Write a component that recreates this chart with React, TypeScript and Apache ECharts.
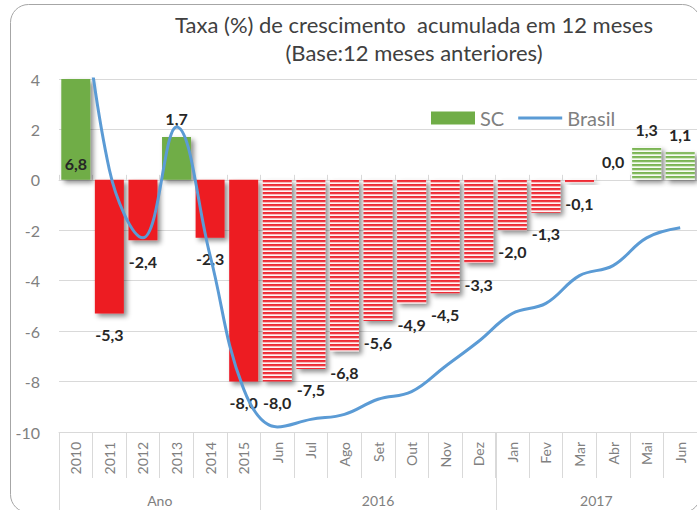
import React, { useEffect, useRef } from 'react';
import * as echarts from 'echarts';

// ---- data ----
const categories = ['2010', '2011', '2012', '2013', '2014', '2015', 'Jun', 'Jul', 'Ago', 'Set', 'Out', 'Nov', 'Dez', 'Jan', 'Fev', 'Mar', 'Abr', 'Mai', 'Jun'];
const groupNames = ['Ano', '2016', '2017'];
const groupSizes = [6, 7, 6];
const scValues = [6.8, -5.3, -2.4, 1.7, -2.3, -8.0, -8.0, -7.5, -6.8, -5.6, -4.9, -4.5, -3.3, -2.0, -1.3, -0.1, 0.0, 1.3, 1.1];
const brasilValues = [10.0, 0.4, -2.3, 2.1, -3.0, -8.3, -9.8, -9.5, -9.3, -8.7, -8.4, -7.4, -6.4, -5.3, -4.9, -3.8, -3.4, -2.3, -1.9];
const yMin = -10;
const yMax = 4;
const yInterval = 2;
const annualCount = 6;
const titleLines = ['Taxa (%) de crescimento  acumulada em 12 meses', '(Base:12 meses anteriores)'];
const seriesNames = ['SC', 'Brasil'];

const GREEN = '#70AD47';
const RED = '#ED1C24';
const BLUE = '#5B9BD5';
const GRID = '#D9D9D9';
const AXIS_TEXT = '#808080';
const FONT = 'Lato, "Open Sans", sans-serif';

const fmt = (v: number) => v.toFixed(1).replace('.', ',');

function stripePattern(rows: string[]) {
  const c = document.createElement('canvas');
  c.width = 8;
  c.height = rows.length;
  const ctx = c.getContext('2d')!;
  rows.forEach((col, i) => {
    ctx.fillStyle = col;
    ctx.fillRect(0, i, 8, 1);
  });
  return { image: c, repeat: 'repeat' };
}

export default function App() {
  const ref = useRef<HTMLDivElement>(null);
  useEffect(() => {
    document.body.style.margin = '0';
    document.body.style.overflow = 'hidden';
    const el = ref.current!;
    const chart = echarts.init(el, undefined, { renderer: 'svg' });

    const redStripes = stripePattern(['#EE2C35', '#EF3A43', '#F9B9BD', '#FFF4F4']);
    const greenStripes = stripePattern(['#7AB452', '#86BB62', '#D4E8C6', '#F8FCF5']);

    const barData = scValues.map((v, i) => {
      const striped = i >= annualCount;
      const positive = v >= 0;
      const color = striped ? (positive ? greenStripes : redStripes) : positive ? GREEN : RED;
      const clipped = v > yMax;
      return {
        value: v,
        itemStyle: {
          color,
          shadowBlur: 5,
          shadowOffsetX: 3,
          shadowOffsetY: 3,
          shadowColor: 'rgba(0,0,0,0.45)',
        },
        label: {
          position: clipped ? 'insideBottom' : positive ? 'top' : 'bottom',
          distance: clipped ? 8 : positive ? 10 : 13,
        },
      };
    });

    chart.setOption({
      animation: false,
      textStyle: { fontFamily: FONT },
      grid: { left: 59, right: -9, top: 79, bottom: 78, containLabel: false },
      legend: {
        data: [
          { name: seriesNames[0], icon: 'rect' },
          {
            name: seriesNames[1],
            icon: 'path://M0,0 L0.01,0 L0.01,0.01 Z M0,5 L44,5 L44,8 L0,8 Z M0,13 L0.01,13 L0.01,12.99 Z',
            itemStyle: { color: BLUE },
          },
        ],
        left: 431,
        top: 108,
        padding: 0,
        itemWidth: 44,
        itemHeight: 13,
        itemGap: 14,
        textStyle: { color: AXIS_TEXT, fontSize: 20, fontFamily: FONT },
      },
      xAxis: [
        {
          type: 'category',
          data: categories,
          position: 'bottom',
          boundaryGap: true,
          axisLine: { onZero: false, lineStyle: { color: GRID, width: 1 } },
          axisTick: { show: true, length: 46, alignWithLabel: false, interval: 0, lineStyle: { color: GRID } },
          axisLabel: { rotate: 90, margin: 10, interval: 0, color: AXIS_TEXT, fontSize: 14, fontFamily: FONT },
          splitLine: { show: false },
        },
        {
          type: 'category',
          data: categories,
          position: 'top',
          boundaryGap: true,
          axisLine: { onZero: true, lineStyle: { color: GRID, width: 1 } },
          axisTick: { show: true, length: 5, alignWithLabel: false, interval: 0, lineStyle: { color: GRID } },
          axisLabel: { show: false },
          splitLine: { show: false },
        },
      ],
      yAxis: {
        type: 'value',
        min: yMin,
        max: yMax,
        interval: yInterval,
        axisLine: { show: false },
        axisTick: { show: false },
        axisLabel: { color: AXIS_TEXT, fontSize: 16, margin: 19, fontFamily: FONT },
        splitLine: { lineStyle: { color: GRID, width: 1 } },
      },
      series: [
        {
          name: seriesNames[0],
          type: 'bar',
          xAxisIndex: 0,
          barWidth: 29,
          itemStyle: { color: GREEN },
          label: {
            show: true,
            color: '#262626',
            fontWeight: 'bold',
            fontSize: 16,
            fontFamily: FONT,
            formatter: (p: any) => fmt(p.value),
          },
          data: barData,
          z: 2,
        },
        {
          name: seriesNames[1],
          type: 'line',
          xAxisIndex: 0,
          data: brasilValues,
          smooth: 0.4,
          symbol: 'none',
          lineStyle: { color: BLUE, width: 3 },
          itemStyle: { color: BLUE },
          z: 3,
        },
      ],
    });

    // Build graphics (border, title, multi-level category groups)
    const c0 = chart.convertToPixel({ xAxisIndex: 0 }, 0) as number;
    const c1 = chart.convertToPixel({ xAxisIndex: 0 }, 1) as number;
    const band = c1 - c0;
    const axisY = chart.convertToPixel({ yAxisIndex: 0 }, yMin) as number;
    const boundary = (i: number) => c0 + (i - 0.5) * band;

    const graphics: any[] = [
      {
        type: 'rect',
        shape: { x: 10.5, y: 4.5, width: 690, height: 508, r: 18 },
        style: { fill: 'none', stroke: '#A6A6A6', lineWidth: 1 },
        silent: true,
      },
      {
        type: 'text',
        x: 414,
        y: 24,
        style: { text: titleLines[0], fill: '#404040', fontSize: 22, fontFamily: FONT, textAlign: 'center', textVerticalAlign: 'middle' },
      },
      {
        type: 'text',
        x: 414,
        y: 52,
        style: { text: titleLines[1], fill: '#404040', fontSize: 22, fontFamily: FONT, textAlign: 'center', textVerticalAlign: 'middle' },
      },
    ];
    let start = 0;
    groupNames.forEach((name, gi) => {
      const end = start + groupSizes[gi];
      const xl = Math.round(boundary(start)) + 0.5;
      const xr = boundary(end);
      graphics.push({
        type: 'line',
        shape: { x1: xl, y1: axisY, x2: xl, y2: 512 },
        style: { stroke: GRID, lineWidth: 1 },
        silent: true,
      });
      graphics.push({
        type: 'text',
        x: (boundary(start) + xr) / 2,
        y: 500,
        style: { text: name, fill: AXIS_TEXT, fontSize: 14, fontFamily: FONT, textAlign: 'center', textVerticalAlign: 'middle' },
      });
      start = end;
    });
    chart.setOption({ graphic: graphics });

    return () => chart.dispose();
  }, []);
  return <div ref={ref} style={{ width: 697, height: 510 }} />;
}
